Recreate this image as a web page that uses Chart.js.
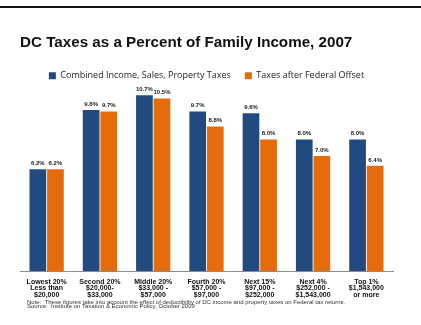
<!DOCTYPE html>
<html lang="en">
  <head>
    <meta charset="UTF-8" />
    <title>DC Taxes as a Percent of Family Income, 2007</title>
    <style>
      html, body {
        margin: 0;
        padding: 0;
        background: #fff;
        width: 421px;
        height: 325px;
        overflow: hidden;
        font-family: "Liberation Sans", Arial, sans-serif;
      }
      #rule {
        position: absolute;
        left: 0;
        top: 6px;
        width: 421px;
        height: 2px;
        background: #111;
      }
      #wrap {
        position: absolute;
        left: 0;
        top: 0;
        width: 421px;
        height: 325px;
      }
      #notes {
        position: absolute;
        left: 27px;
        top: 299.5px;
        font-size: 6px;
        line-height: 4.6px;
        color: #333;
      }
    </style>
  </head>
  <body>
    <div id="rule"></div>
    <div id="wrap"><canvas id="taxChart" width="421" height="325"></canvas></div>
    <div id="notes">
      Note:&nbsp; These figures take into account the effect of deductibility of DC income and property taxes on Federal tax returns.<br />
      Source:&nbsp; Institute on Taxation &amp; Economic Policy, October 2009
    </div>

    <script src="https://cdn.jsdelivr.net/npm/chart.js@4.4.0/dist/chart.umd.min.js"></script>
    <script>
      // income groups (multi-line tick labels)
      const groups = [
        ["Lowest 20%", "Less than", "$20,000"],
        ["Second 20%", "$20,000-", "$33,000"],
        ["Middle 20%", "$33,000 -", "$57,000"],
        ["Fourth 20%", "$57,000 -", "$97,000"],
        ["Next 15%", "$97,000 -", "$252,000"],
        ["Next 4%", "$252,000 -", "$1,543,000"],
        ["Top 1%", "$1,543,000", "or more"],
      ];
      const combinedTaxes = [6.2, 9.8, 10.7, 9.7, 9.6, 8.0, 8.0];
      const afterOffset = [6.2, 9.7, 10.5, 8.8, 8.0, 7.0, 6.4];

      // value labels above each bar
      const barLabels = {
        id: "barLabels",
        afterDatasetsDraw(chart) {
          const ctx = chart.ctx;
          ctx.save();
          ctx.font = "bold 6px 'Liberation Sans', Arial, sans-serif";
          ctx.fillStyle = "#1a1a1a";
          ctx.textAlign = "center";
          ctx.textBaseline = "bottom";
          chart.data.datasets.forEach((ds, i) => {
            chart.getDatasetMeta(i).data.forEach((bar, j) => {
              ctx.fillText(ds.data[j].toFixed(1) + "%", bar.x, bar.y - 3);
            });
          });
          ctx.restore();
        },
      };

      new Chart(document.getElementById("taxChart"), {
        type: "bar",
        data: {
          labels: groups,
          datasets: [
            {
              label: "Combined Income, Sales, Property Taxes",
              data: combinedTaxes,
              backgroundColor: "#214b80",
            },
            {
              label: "Taxes after Federal Offset",
              data: afterOffset,
              backgroundColor: "#e46c0a",
            },
          ],
        },
        options: {
          responsive: false,
          animation: false,
          devicePixelRatio: 1,
          layout: { padding: { left: 20, right: 28, top: 0, bottom: 19 } },
          datasets: {
            bar: { categoryPercentage: 0.66, barPercentage: 0.95 },
          },
          scales: {
            x: {
              grid: { display: false, drawTicks: false },
              border: { color: "#8c8c8c", width: 1 },
              ticks: {
                color: "#111",
                maxRotation: 0,
                autoSkip: false,
                padding: 8,
                font: { family: "'Liberation Sans', Arial, sans-serif", size: 7, weight: "bold", lineHeight: 0.9 },
              },
            },
            y: {
              display: false,
              min: 0,
              max: 11,
            },
          },
          plugins: {
            title: {
              display: true,
              text: "DC Taxes as a Percent of Family Income, 2007",
              align: "start",
              color: "#111",
              font: { family: "'Liberation Sans', Arial, sans-serif", size: 15.2, weight: "bold" },
              padding: { top: 34, bottom: 5 },
            },
            legend: {
              display: true,
              labels: {
                boxWidth: 7,
                boxHeight: 7,
                color: "#222",
                padding: 14,
                font: { family: "'Open Sans', 'Liberation Sans', sans-serif", size: 9 },
              },
            },
            tooltip: { enabled: false },
          },
        },
        plugins: [barLabels],
      });
    </script>
  </body>
</html>
